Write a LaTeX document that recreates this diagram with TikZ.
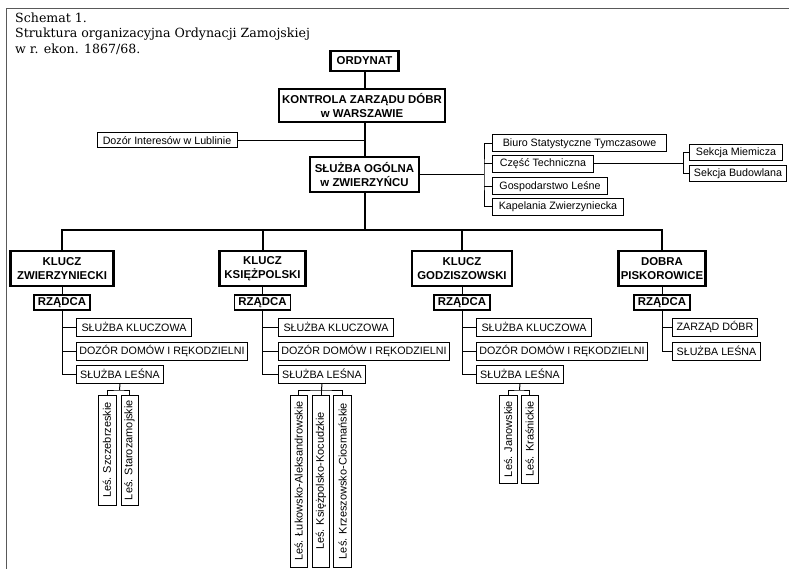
\documentclass[tikz,border=0pt]{standalone}
\usepackage{fontspec}
\setmainfont{Liberation Sans}
\newfontfamily\titlefont{DejaVu Serif}
\begin{document}
\begin{tikzpicture}[x=1pt,y=-1pt,
  hb/.style={draw, line width=2.6pt, inner sep=0pt, align=center,
    font=\bfseries\fontsize{11.4}{14}\selectfont},
  rz/.style={draw, line width=1.6pt, inner sep=0pt, minimum width=56pt, minimum height=15pt,
    font=\bfseries\fontsize{11.4}{13}\selectfont},
  tb/.style={draw, line width=1pt, inner sep=0pt, minimum height=18pt,
    font=\fontsize{10.7}{13}\selectfont},
  lb/.style={draw, line width=1pt, inner sep=0pt, rotate=90,
    font=\fontsize{11}{13}\selectfont},
  ln/.style={line width=1pt},
  mainln/.style={line width=2pt},
  frame/.style={line width=1pt, draw=black!65}]
\useasboundingbox (0,0) rectangle (789,569);
\draw[frame] (789,9) -| (6,569);

\node[anchor=north west, align=left, inner sep=0pt,
  font=\titlefont\fontsize{12.6}{15.2}\selectfont] (title) at (15,13)
  {Schemat 1.\\Struktura organizacyjna Ordynacji Zamojskiej\\w r. ekon. 1867/68.};

% top
\node[hb, minimum width=68pt, minimum height=20pt] (ordynat) at (364.5,61) {ORDYNAT};
\node[hb, minimum width=166pt, minimum height=33pt] (kontrola) at (362,105.5) {KONTROLA ZARZĄDU DÓBR\\w WARSZAWIE};
\node[tb, minimum width=140pt, minimum height=15pt] (dozor) at (167,140.5) {Dozór Interesów w Lublinie};
\node[hb, minimum width=109pt, minimum height=35pt] (sluzba) at (364.5,174.5) {SŁUŻBA OGÓLNA\\w ZWIERZYŃCU};

\draw[mainln] (ordynat.south) -- (ordynat.south |- kontrola.north);
\draw[mainln] (kontrola.south -| sluzba.north) -- (sluzba.north);
\draw[ln] (dozor.east) -- (dozor.east -| sluzba.north);

% right branch
\node[tb, anchor=west, minimum width=174pt, minimum height=17pt] (biuro) at (492,143.5) {Biuro Statystyczne Tymczasowe};
\node[tb, anchor=west, minimum width=101pt, minimum height=17pt] (czesc) at (492,164) {Część Techniczna};
\node[tb, anchor=west, minimum width=115pt, minimum height=17pt] (gosp) at (492,186.5) {Gospodarstwo Leśne};
\node[tb, anchor=west, minimum width=131pt, minimum height=17pt] (kapel) at (492,207) {Kapelania Zwierzyniecka};
\node[tb, anchor=west, minimum width=93pt, minimum height=16pt] (miem) at (689,153) {Sekcja Miemicza};
\node[tb, anchor=west, minimum width=97pt, minimum height=16pt] (budow) at (689,174) {Sekcja Budowlana};

\coordinate (br) at (484,174.5);
\coordinate (bs) at (683,164);
\draw[ln] (sluzba.east) -- (br);
\draw[ln] (biuro.west) -| (br) |- (kapel.west);
\draw[ln] (czesc.west) -- (czesc.west -| br);
\draw[ln] (gosp.west) -- (gosp.west -| br);
\draw[ln] (czesc.east) -- (bs);
\draw[ln] (miem.west) -| (bs) |- (budow.west);

% klucze
\node[hb, minimum width=103pt, minimum height=35pt] (kz) at (62,268.5) {KLUCZ\\ZWIERZYNIECKI};
\node[hb, minimum width=86pt, minimum height=35pt] (kk) at (262.5,268.5) {KLUCZ\\KSIĘŻPOLSKI};
\node[hb, minimum width=100pt, minimum height=35pt] (kg) at (462,268.5) {KLUCZ\\GODZISZOWSKI};
\node[hb, minimum width=87pt, minimum height=35pt] (dp) at (662,268.5) {DOBRA\\PISKOROWICE};

\coordinate (bar) at (364.5,230);
\draw[mainln] (sluzba.south) -- (bar);
\draw[mainln] (kz.north) |- (bar) -| (dp.north);
\draw[mainln] (kk.north) -- (kk.north |- bar);
\draw[mainln] (kg.north) -- (kg.north |- bar);

\node[rz] (r1) at (62,302.5) {RZĄDCA};
\node[rz] (r2) at (262.5,302.5) {RZĄDCA};
\node[rz] (r3) at (462,302.5) {RZĄDCA};
\node[rz] (r4) at (662,302.5) {RZĄDCA};
\draw[ln] (kz.south) -- (r1.north);
\draw[ln] (kk.south) -- (r2.north);
\draw[ln] (kg.south) -- (r3.north);
\draw[ln] (dp.south) -- (r4.north);

% group 1
\node[tb, anchor=west, minimum width=115pt] (sk1) at (76,327) {SŁUŻBA KLUCZOWA};
\node[tb, anchor=west, minimum width=171pt] (dd1) at (76,351) {DOZÓR DOMÓW I RĘKODZIELNI};
\node[tb, anchor=west, minimum width=87pt] (sl1) at (76,374) {SŁUŻBA LEŚNA};
\draw[ln] (r1.south) |- (sl1.west);
\draw[ln] (sk1.west) -- (sk1.west -| r1.south);
\draw[ln] (dd1.west) -- (dd1.west -| r1.south);

% group 2
\node[tb, anchor=west, minimum width=115pt] (sk2) at (278,327) {SŁUŻBA KLUCZOWA};
\node[tb, anchor=west, minimum width=171pt] (dd2) at (278,351) {DOZÓR DOMÓW I RĘKODZIELNI};
\node[tb, anchor=west, minimum width=87pt] (sl2) at (278,374) {SŁUŻBA LEŚNA};
\draw[ln] (r2.south) |- (sl2.west);
\draw[ln] (sk2.west) -- (sk2.west -| r2.south);
\draw[ln] (dd2.west) -- (dd2.west -| r2.south);

% group 3
\node[tb, anchor=west, minimum width=115pt] (sk3) at (476,327) {SŁUŻBA KLUCZOWA};
\node[tb, anchor=west, minimum width=171pt] (dd3) at (476,351) {DOZÓR DOMÓW I RĘKODZIELNI};
\node[tb, anchor=west, minimum width=87pt] (sl3) at (476,374) {SŁUŻBA LEŚNA};
\draw[ln] (r3.south) |- (sl3.west);
\draw[ln] (sk3.west) -- (sk3.west -| r3.south);
\draw[ln] (dd3.west) -- (dd3.west -| r3.south);

% group 4
\node[tb, anchor=west, minimum width=85pt] (zd) at (672,327) {ZARZĄD DÓBR};
\node[tb, anchor=west, minimum width=88pt] (sl4) at (672,351) {SŁUŻBA LEŚNA};
\draw[ln] (r4.south) |- (sl4.west);
\draw[ln] (zd.west) -- (zd.west -| r4.south);

% lesnictwa
\node[lb, minimum width=110pt, minimum height=18pt] (l11) at (107,450) {Leś. Szczebrzeskie};
\node[lb, minimum width=110pt, minimum height=17pt] (l12) at (129.5,450) {Leś. Starozamojskie};
\coordinate (j1) at (119.5,390);
\draw[ln] (sl1.south) -- (j1);
\draw[ln] (l11.east) |- (j1) -| (l12.east);

\node[lb, minimum width=172pt, minimum height=17pt] (l21) at (298.5,481) {Leś. Łukowsko-Aleksandrowskie};
\node[lb, minimum width=172pt, minimum height=17pt] (l22) at (321,481) {Leś. Księżpolsko-Kocudzkie};
\node[lb, minimum width=172pt, minimum height=18pt] (l23) at (342.5,481) {Leś. Krzeszowsko-Ciosmańskie};
\coordinate (j2) at (321.5,390);
\draw[ln] (sl2.south) -- (j2);
\draw[ln] (l21.east) |- (j2) -| (l23.east);
\draw[ln] (l22.east) -- (l22.east |- j2);

\node[lb, minimum width=88pt, minimum height=18pt] (l31) at (508,439) {Leś. Janowskie};
\node[lb, minimum width=88pt, minimum height=17pt] (l32) at (529.5,439) {Leś. Kraśnickie};
\coordinate (j3) at (519.5,390);
\draw[ln] (sl3.south) -- (j3);
\draw[ln] (l31.east) |- (j3) -| (l32.east);
\end{tikzpicture}
\end{document}
